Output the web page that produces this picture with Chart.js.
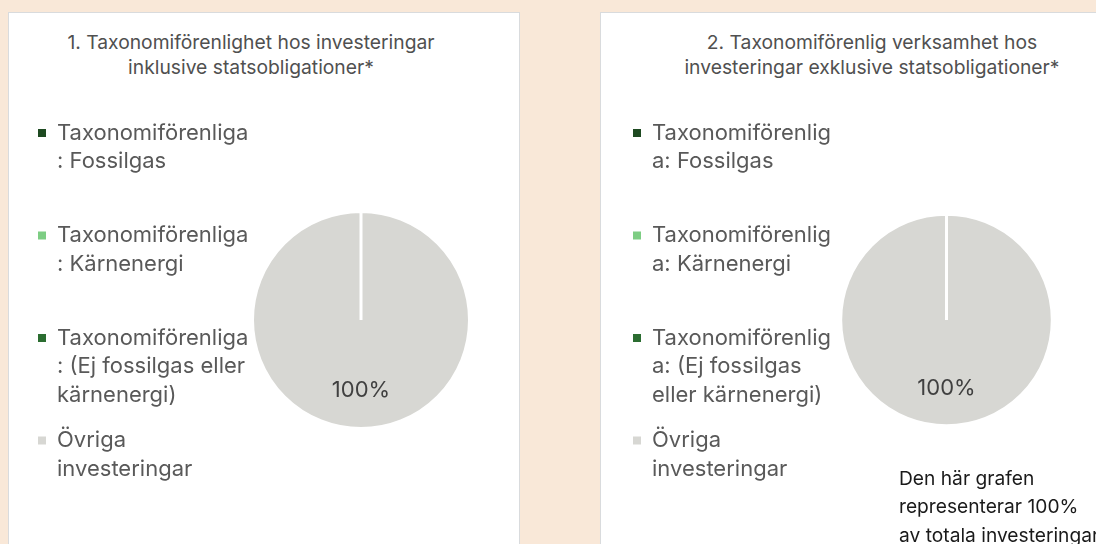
<!DOCTYPE html>
<html>
<head>
<meta charset="utf-8">
<script src="https://cdn.jsdelivr.net/npm/chart.js@4.4.1/dist/chart.umd.min.js"></script>
<style>
  body { margin: 0; width: 1096px; height: 544px; overflow: hidden; background: #f9e8d8; font-family: Inter, sans-serif; position: relative; }
  .panel { position: absolute; top: 12px; height: 600px; background: #fff; border: 1px solid #d9dbdd; box-sizing: border-box; }
  .wrap { position: absolute; top: 0; height: 535px; }
  .title { position: absolute; top: 29.5px; width: 440px; text-align: center; font-size: 19.3px; line-height: 25px; color: #505050; white-space: nowrap; }
  #note { position: absolute; left: 899px; top: 463.75px; font-size: 19.2px; line-height: 28.5px; color: #1a1a1a; white-space: nowrap; }
</style>
</head>
<body>
<div class="panel" style="left:8px; width:512px;"></div>
<div class="panel" style="left:600px; width:600px;"></div>

<div class="title" id="title-incl" style="left:31px;"></div>
<div class="title" id="title-excl" style="left:652px;"></div>

<div class="wrap" style="left:21px; width:447px;"><canvas id="chart-incl"></canvas></div>
<div class="wrap" style="left:616px; width:435px;"><canvas id="chart-excl"></canvas></div>

<div id="note">Den här grafen<br>representerar 100%<br>av totala investeringar</div>

<script>
// legend labels as they wrap in the original
const labelsIncl = [
  ['Taxonomiförenliga', ': Fossilgas'],
  ['Taxonomiförenliga', ': Kärnenergi'],
  ['Taxonomiförenliga', ': (Ej fossilgas eller', 'kärnenergi)'],
  ['Övriga', 'investeringar']
];
const labelsExcl = [
  ['Taxonomiförenlig', 'a: Fossilgas'],
  ['Taxonomiförenlig', 'a: Kärnenergi'],
  ['Taxonomiförenlig', 'a: (Ej fossilgas', 'eller kärnenergi)'],
  ['Övriga', 'investeringar']
];
const valuesIncl = [0, 0, 0, 100];
const valuesExcl = [0, 0, 0, 100];
const titleIncl = ['1. Taxonomiförenlighet hos investeringar', 'inklusive statsobligationer*'];
const titleExcl = ['2. Taxonomiförenlig verksamhet hos', 'investeringar exklusive statsobligationer*'];
const colors = ['#1e4a21', '#7dcd83', '#2b6d31', '#d7d7d3'];

// draws "100%" inside each non-empty slice
const pctLabels = {
  id: 'pctLabels',
  afterDatasetsDraw(chart) {
    const ctx = chart.ctx;
    const data = chart.data.datasets[0].data;
    ctx.save();
    ctx.font = '22px Inter';
    ctx.fillStyle = '#404040';
    ctx.textAlign = 'center';
    ctx.textBaseline = 'middle';
    chart.getDatasetMeta(0).data.forEach((arc, i) => {
      if (!data[i]) return;
      const p = arc.getProps(['x', 'y', 'startAngle', 'endAngle', 'outerRadius']);
      const mid = (p.startAngle + p.endAngle) / 2;
      const r = p.outerRadius * 0.65;
      ctx.fillText(data[i] + '%', p.x + Math.cos(mid) * r, p.y + Math.sin(mid) * r);
    });
    ctx.restore();
  }
};

// fixed legend column width (the default one is measured from the longest string, and clips)
const legendWidth = {
  id: 'legendWidth',
  beforeInit(chart, args, opts) {
    const fit = chart.legend.fit;
    chart.legend.fit = function () {
      fit.call(this);
      this.width = opts.width;
    };
  }
};

function renderPie(id, titleId, labels, values, title, radius, legendW) {
  document.getElementById(titleId).innerHTML = title.join('<br>');
  const ctx = document.getElementById(id);
  return new Chart(ctx, {
    type: 'pie',
    data: {
      labels,
      datasets: [{
        data: values,
        backgroundColor: colors,
        borderColor: '#ffffff',
        borderWidth: 3,
        hoverOffset: 0
      }]
    },
    options: {
      responsive: true,
      maintainAspectRatio: false,
      animation: false,
      radius,
      layout: { padding: { top: 105 } },
      plugins: {
        tooltip: { enabled: false },
        legendWidth: { width: legendW },
        legend: {
          position: 'left',
          align: 'start',
          labels: {
            boxWidth: 8,
            boxHeight: 8,
            padding: 17,
            color: '#595959',
            font: { family: 'Inter', size: 22, lineHeight: 28.5 / 22 },
            generateLabels(chart) {
              const items = Chart.overrides.pie.plugins.legend.labels.generateLabels(chart);
              // keep the entries evenly spaced like the original
              return items.map((it, i) => {
                const text = it.text.slice();
                if (i < items.length - 1) while (text.length < 3) text.push('');
                return { ...it, text, strokeStyle: 'rgba(0,0,0,0)', lineWidth: 0 };
              });
            }
          }
        }
      }
    },
    plugins: [pctLabels, legendWidth]
  });
}

renderPie('chart-incl', 'title-incl', labelsIncl, valuesIncl, titleIncl, 108.5, 233);
renderPie('chart-excl', 'title-excl', labelsExcl, valuesExcl, titleExcl, 105.8, 226);
</script>
</body>
</html>
